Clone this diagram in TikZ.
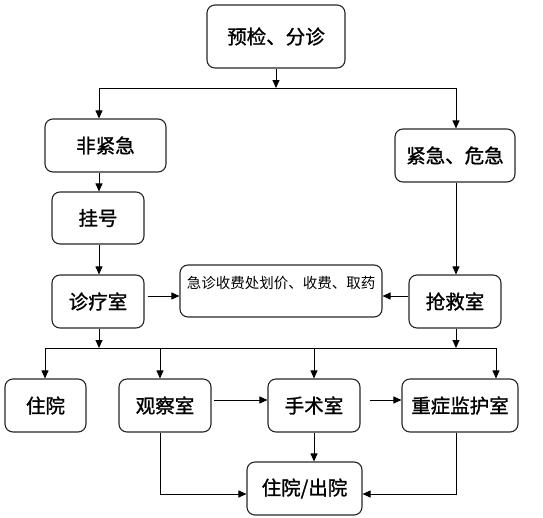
\documentclass[tikz,border=0pt]{standalone}
\usepackage{fontspec}
\setmainfont{Noto Sans CJK SC}
\newfontfamily\boldcjk{Noto Sans CJK SC}[FakeBold=1.2]
\usetikzlibrary{arrows.meta}
\begin{document}
\begin{tikzpicture}[x=1pt,y=-1pt,
  box/.style={draw=black!85,line width=1.1pt,rounded corners=8pt,inner sep=0pt,
    font=\boldcjk\fontsize{19.5}{21}\selectfont},
  arr/.style={line width=0.9pt,-{Triangle[length=8pt,width=7pt]}},
  ln/.style={line width=0.9pt}]
\useasboundingbox (0,0) rectangle (543,517);
\node[box,minimum width=138pt,minimum height=63pt] (pre) at (276,36.5) {预检、分诊};
\node[box,minimum width=121pt,minimum height=53pt] (fei) at (105.5,145.5) {非紧急};
\node[box,minimum width=120pt,minimum height=53pt] (jin) at (455,155.5) {紧急、危急};
\node[box,minimum width=92pt,minimum height=52pt] (gua) at (98,218) {挂号};
\node[box,minimum width=92pt,minimum height=53pt] (zhen) at (98,301.5) {诊疗室};
\node[box,minimum width=202pt,minimum height=52pt,font=\rmfamily\fontsize{14.5}{16}\selectfont,
  text height=23.5pt,text depth=28.5pt] (fee) at (281,291) {急诊收费处划价、收费、取药};
\node[box,minimum width=92pt,minimum height=53pt] (qiang) at (455,301.5) {抢救室};
\node[box,minimum width=81pt,minimum height=53pt] (zy) at (45.5,405.5) {住院};
\node[box,minimum width=92pt,minimum height=53pt] (gc) at (165,405.5) {观察室};
\node[box,minimum width=92pt,minimum height=53pt] (ss) at (314,405.5) {手术室};
\node[box,minimum width=116pt,minimum height=53pt] (zz) at (460,405.5) {重症监护室};
\node[box,minimum width=115pt,minimum height=53pt] (out) at (304.5,488.5) {住院/出院};
\coordinate (b1L) at (99,88);
\coordinate (b1R) at (456,88);
\coordinate (m) at (0,296);
\coordinate (b2L) at (45,348);
\coordinate (k1) at (160,348);
\coordinate (b2R) at (496,348);
\coordinate (r) at (0,400);
\coordinate (q) at (0,494);
\draw[arr] (pre.south) -- (pre.south |- b1L);
\draw[ln] (b1L) -- (b1R);
\draw[arr] (b1L) -- (b1L |- fei.north);
\draw[arr] (b1R) -- (b1R |- jin.north);
\draw[arr] (fei.south -| b1L) -- (gua.north -| b1L);
\draw[arr] (gua.south -| b1L) -- (zhen.north -| b1L);
\draw[arr] (jin.south -| b1R) -- (qiang.north -| b1R);
\draw[arr,shorten <=3pt] (zhen.east |- m) -- (fee.west |- m);
\draw[arr] (qiang.west |- m) -- (fee.east |- m);
\draw[arr] (zhen.south -| b1L) -- (b1L |- b2L);
\draw[arr] (qiang.south -| b1R) -- (b1R |- b2L);
\draw[ln] (b2L) -- (b2R);
\draw[arr] (b2L) -- (b2L |- zy.north);
\draw[arr] (k1) -- (k1 |- gc.north);
\draw[arr] (ss.north |- b2L) -- (ss.north);
\draw[arr] (b2R) -- (b2R |- zz.north);
\draw[arr,shorten <=2pt] (gc.east |- r) -- (ss.west |- r);
\draw[arr,shorten <=9pt] (ss.east |- r) -- (zz.west |- r);
\draw[arr] (ss.south) -- (ss.south |- out.north);
\draw[arr] (gc.south -| k1) |- (out.west |- q);
\draw[arr] (zz.south -| b1R) |- (out.east |- q);
\end{tikzpicture}
\end{document}
